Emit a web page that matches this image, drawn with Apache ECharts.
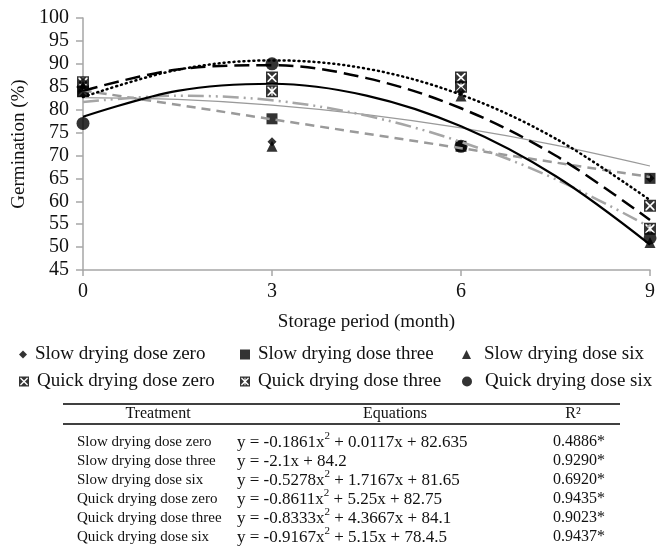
<!DOCTYPE html>
<html>
<head>
<meta charset="utf-8">
<script src="https://cdn.jsdelivr.net/npm/echarts@6/dist/echarts.min.js"></script>
<style>
html,body{margin:0;padding:0;background:#fff;}
#chart{width:658px;height:554px;}
</style>
</head>
<body>
<div id="chart"></div>
<script>
// ---- Data ----
const months = [0, 3, 6, 9];
const seriesNames = ['Slow drying dose zero', 'Slow drying dose three', 'Slow drying dose six',
                     'Quick drying dose zero', 'Quick drying dose three', 'Quick drying dose six'];
const slowZero   = [86, 73, 84, 65];
const slowThree  = [84, 78, 72, 65];
const slowSix    = [85, 72, 83, 51];
const quickZero  = [84, 87, 87, 59];
const quickThree = [86, 84, 85, 54];
const quickSix   = [77, 90, 72, 52];

// trend curves
const trendX          = [0, 1.5, 3, 4.5, 6, 7.5, 9];
const trendSlowZero   = [82.64, 82.23, 81.00, 78.92, 76.00, 72.25, 67.70];
const trendSlowThreeX = [0, 9];
const trendSlowThree  = [84.2, 65.3];
const trendSlowSix    = [81.65, 83.04, 82.05, 78.69, 72.95, 64.84, 54.35];
const trendQuickZero  = [82.75, 88.69, 90.75, 88.94, 83.25, 73.69, 60.25];
const trendQuickThree = [84.10, 88.78, 89.70, 86.88, 80.30, 69.98, 55.90];
const trendQuickSix   = [78.45, 84.11, 85.65, 83.06, 76.35, 65.51, 50.55];

const xTicks = [0, 3, 6, 9];
const yTicks = [45, 50, 55, 60, 65, 70, 75, 80, 85, 90, 95, 100];

// table
const tableHeaders = ['Treatment', 'Equations', 'R²'];
const tableTreatments = seriesNames;
const tableEquations = [
  'y = -0.1861x² + 0.0117x + 82.635',
  'y = -2.1x + 84.2',
  'y = -0.5278x² + 1.7167x + 81.65',
  'y = -0.8611x² + 5.25x + 82.75',
  'y = -0.8333x² + 4.3667x + 84.1',
  'y = -0.9167x² + 5.15x + 78.4.5'
];
const tableR2 = ['0.4886*', '0.9290*', '0.6920*', '0.9435*', '0.9023*', '0.9437*'];

// ---- Build ----
const FONT = '"Liberation Serif", "Times New Roman", serif';
const zip = (xs, ys) => xs.map((x, i) => [x, ys[i]]);

const boxX = 'path://M0 0L100 0L100 100L0 100ZM12 12L12 88L88 88L88 12ZM22 12L78 12L50 40ZM88 22L88 78L60 50ZM78 88L22 88L50 60ZM12 78L12 22L40 50Z';
const boxStar = 'path://M0 0L100 0L100 100L0 100ZM12 12L12 88L88 88L88 12ZM22 12L45 12L45 35ZM55 12L78 12L55 35ZM88 22L88 78L60 50ZM78 88L55 88L55 65ZM45 88L22 88L45 65ZM12 78L12 22L40 50Z';

const pointData = [slowZero, slowThree, slowSix, quickZero, quickThree, quickSix];
const symbols = ['diamond', 'rect', 'triangle', boxX, boxStar, 'circle'];
const symSizes = [9, 11, 11, 12, 12, 13];

const scatterSeries = seriesNames.map((n, i) => ({
  name: n,
  type: 'scatter',
  data: zip(months, pointData[i]),
  symbol: symbols[i],
  symbolSize: symSizes[i],
  itemStyle: { color: '#000' },
  z: 2,
  silent: true
}));

function trend(name, xs, ys, ls) {
  return {
    name: name, type: 'line', data: zip(xs, ys), showSymbol: false, symbol: 'none',
    smooth: 0.35, lineStyle: ls, z: 3, silent: true
  };
}
const lineSeries = [
  trend('t0', trendX, trendSlowZero, { color: '#9a9a9a', width: 1.2, type: 'solid' }),
  trend('t1', trendSlowThreeX, trendSlowThree, { color: '#9a9a9a', width: 2.5, type: [9, 6] }),
  trend('t2', trendX, trendSlowSix, { color: '#a6a6a6', width: 2.5, type: [16, 5, 2, 5, 2, 5] }),
  trend('t3', trendX, trendQuickZero, { color: '#000', width: 2.5, type: [1, 4], cap: 'round' }),
  trend('t4', trendX, trendQuickThree, { color: '#000', width: 2.5, type: [15, 7] }),
  trend('t5', trendX, trendQuickSix, { color: '#000', width: 2.2, type: 'solid' })
];

// legend: one component per entry
const legendLeft = [19, 240, 462];
const legendTextPad = [3, 3, 8];
const legendTop = [345, 372];
const legendIcons = ['diamond', 'rect', 'triangle', boxX, boxStar, 'circle'];
const legendIconSize = [[8, 8], [10, 10], [9, 9], [10, 10], [10, 10], [10, 10]];
const legends = seriesNames.map((n, i) => ({
  data: [{ name: n, icon: legendIcons[i] }],
  left: legendLeft[i % 3],
  top: legendTop[Math.floor(i / 3)],
  padding: 0,
  itemWidth: legendIconSize[i][0],
  itemHeight: legendIconSize[i][1],
  selectedMode: false,
  itemStyle: { color: '#000' },
  textStyle: { fontFamily: FONT, fontSize: 19, color: '#111', padding: [0, 0, 0, legendTextPad[i % 3]] }
}));

// table graphic
const tblLeft = 63, tblRight = 620;
const colX = [77, 237, 553];
const headerCenterX = [158, 395, 573];
const headerY = 414;
const rowY0 = 442, rowStep = 19;
const graphics = [
  { type: 'line', shape: { x1: tblLeft, y1: 404, x2: tblRight, y2: 404 }, style: { stroke: '#000', lineWidth: 1.3 } },
  { type: 'line', shape: { x1: tblLeft, y1: 424, x2: tblRight, y2: 424 }, style: { stroke: '#000', lineWidth: 1.3 } }
];
tableHeaders.forEach((h, i) => graphics.push({
  type: 'text', x: headerCenterX[i], y: headerY,
  style: { text: h, font: '16px ' + FONT, fill: '#111', textAlign: 'center', textVerticalAlign: 'middle' }
}));
function eqRich(s) {
  return '{a|' + s.split('²').join('}{s|2}{a|') + '}';
}
tableTreatments.forEach((t, r) => {
  const y = rowY0 + r * rowStep;
  graphics.push({
    type: 'text', x: colX[0], y: y,
    style: { text: t, font: '15px ' + FONT, fill: '#111', textAlign: 'left', textVerticalAlign: 'middle' }
  });
  graphics.push({
    type: 'text', x: colX[1], y: y - 1,
    style: {
      text: eqRich(tableEquations[r]), textAlign: 'left', textVerticalAlign: 'middle',
      rich: {
        a: { fontFamily: FONT, fontSize: 17, lineHeight: 20, fill: '#111', verticalAlign: 'bottom' },
        s: { fontFamily: FONT, fontSize: 11, lineHeight: 11, fill: '#111', verticalAlign: 'top' }
      }
    }
  });
  graphics.push({
    type: 'text', x: colX[2], y: y,
    style: { text: tableR2[r], font: '16px ' + FONT, fill: '#111', textAlign: 'left', textVerticalAlign: 'middle' }
  });
});

const option = {
  backgroundColor: '#fff',
  animation: false,
  textStyle: { fontFamily: FONT },
  grid: { left: 83, right: 5, top: 18, bottom: 284, containLabel: false },
  xAxis: {
    type: 'value', min: xTicks[0], max: xTicks[xTicks.length - 1], interval: 3,
    axisLine: { show: true, lineStyle: { color: '#a6a6a6', width: 1.5 } },
    axisTick: { show: true, length: 6, lineStyle: { color: '#a6a6a6', width: 1.5 } },
    splitLine: { show: false },
    axisLabel: { fontFamily: FONT, fontSize: 20, color: '#111', margin: 12 },
    name: 'Storage period (month)', nameLocation: 'middle', nameGap: 43,
    nameTextStyle: { fontFamily: FONT, fontSize: 19, color: '#111' }
  },
  yAxis: {
    type: 'value', min: yTicks[0], max: yTicks[yTicks.length - 1], interval: 5,
    axisLine: { show: true, lineStyle: { color: '#a6a6a6', width: 1.5 } },
    axisTick: { show: true, length: 7, lineStyle: { color: '#a6a6a6', width: 1.5 } },
    splitLine: { show: false },
    axisLabel: { fontFamily: FONT, fontSize: 20, color: '#111', margin: 14 },
    name: 'Germination (%)', nameLocation: 'middle', nameGap: 47,
    nameTextStyle: { fontFamily: FONT, fontSize: 19, color: '#111' }
  },
  legend: legends,
  series: scatterSeries.concat(lineSeries),
  graphic: graphics
};

const chart = echarts.init(document.getElementById('chart'), null, { renderer: 'canvas' });
chart.setOption(option);
</script>
</body>
</html>
